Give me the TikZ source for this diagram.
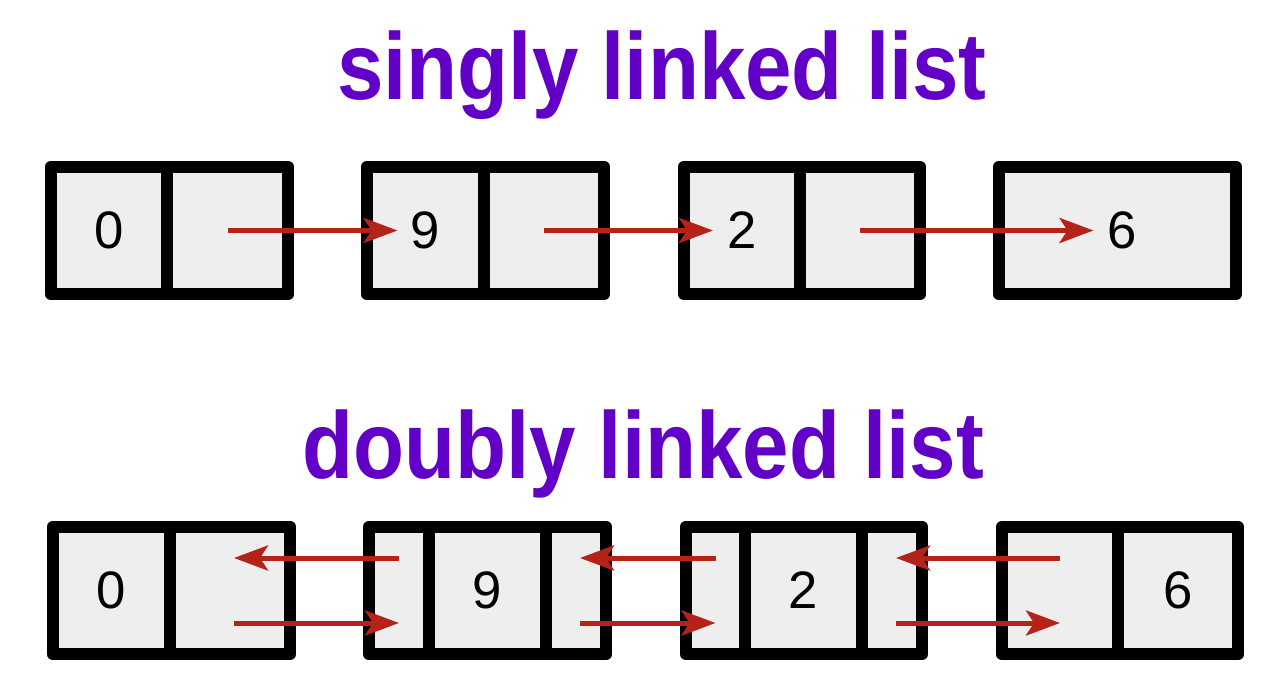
\documentclass[tikz,border=0pt]{standalone}
\usepackage{fontspec}
\setmainfont{Liberation Sans}
\usepackage{xcolor}
\usetikzlibrary{arrows.meta,calc}
\definecolor{titlepurple}{RGB}{98,0,200}
\definecolor{linkred}{RGB}{180,34,24}
\definecolor{cellgray}{RGB}{238,238,238}

\begin{document}
\begin{tikzpicture}[x=0.02cm,y=-0.02cm,
  every node/.style={font=\fontsize{30}{36}\selectfont},
  title/.style={anchor=base,text=titlepurple,font=\fontsize{54}{60}\selectfont\bfseries},
  cell/.style={draw=black,fill=cellgray,line width=0.24cm,line join=round,inner sep=0pt,minimum height=2.56cm},
  ptr/.style={draw=linkred,line width=0.10cm,-{Stealth[length=0.68cm,width=0.50cm,inset=0.16cm]}}]
 \useasboundingbox (0,0) rectangle (1280,692);
 \node[title] (ts) at (662,100) {\scalebox{0.88}[1]{singly linked list}};
 \node[title] (td) at (643,478) {\scalebox{0.88}[1]{doubly linked list}};
 % singly linked list
 \node[cell,minimum width=2.32cm] (s0v) at (109,230.5) {0};
 \node[cell,minimum width=2.42cm] (s0p) at (227.5,230.5) {};
 \node[cell,minimum width=2.34cm] (s1v) at (425.5,230.5) {9};
 \node[cell,minimum width=2.40cm] (s1p) at (544,230.5) {};
 \node[cell,minimum width=2.32cm] (s2v) at (742,230.5) {2};
 \node[cell,minimum width=2.40cm] (s2p) at (860,230.5) {};
 \node[cell,minimum width=4.74cm] (s3v) at (1117.5,230.5) {\hspace{0.2cm}6};
 \foreach \a/\b/\d in {s0p/s1v/28,s1p/s2v/29,s2p/s3v/24}
   \draw[ptr] (\a.center) -- ($(\b.center)+(-\d,0)$);
 % doubly linked list
 \node[cell,minimum width=2.34cm] (d0v) at (111.5,590.5) {0};
 \node[cell,minimum width=2.40cm] (d0n) at (230,590.5) {};
 \node[cell,minimum width=1.20cm] (d1p) at (399,590.5) {};
 \node[cell,minimum width=2.34cm] (d1v) at (487.5,590.5) {9};
 \node[cell,minimum width=1.20cm] (d1n) at (576,590.5) {};
 \node[cell,minimum width=1.18cm] (d2p) at (715.5,590.5) {};
 \node[cell,minimum width=2.34cm] (d2v) at (803.5,590.5) {2};
 \node[cell,minimum width=1.20cm] (d2n) at (892,590.5) {};
 \node[cell,minimum width=2.32cm] (d3p) at (1060,590.5) {};
 \node[cell,minimum width=2.40cm] (d3v) at (1178,590.5) {6};
 \foreach \a/\b in {d0n/d1p,d1n/d2p,d2n/d3p} {
   \draw[ptr] ($(\a.center)+(4,32.5)$) -- ($(\b.center)+(0,32.5)$);
   \draw[ptr] ($(\b.center)+(0,-32.5)$) -- ($(\a.center)+(4,-32.5)$);
 }
\end{tikzpicture}
\end{document}
